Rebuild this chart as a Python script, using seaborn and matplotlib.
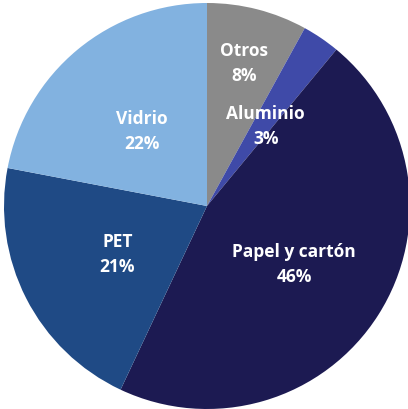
import numpy as np
import matplotlib
matplotlib.use("Agg")
import matplotlib.pyplot as plt
import seaborn as sns

categories = ["Otros", "Aluminio", "Papel y cartón", "PET", "Vidrio"]
shares = [8, 3, 46, 21, 22]
colors = ["#8a8a8a", "#3f4aa8", "#1c1a52", "#1f4a85", "#82b2e0"]
label_radius = [0.73, 0.49, 0.515, 0.50, 0.49]
label_shift = [0, -2, -1, 1, 1]  # degrees, nudges label off the wedge middle

sns.set_theme(style="white")
plt.rcParams['font.family'] = ['Open Sans', 'DejaVu Sans']

fig = plt.figure(figsize=(4.08, 4.10), dpi=100)
ax = fig.add_axes([0, 0, 1, 1])
wedges, _ = ax.pie(shares, colors=colors, startangle=90, counterclock=False,
                   radius=1.0, center=(0, 0), wedgeprops=dict(linewidth=0))

for w, cat, val, r, d in zip(wedges, categories, shares, label_radius, label_shift):
    mid = np.deg2rad((w.theta1 + w.theta2) / 2 + d)
    ax.text(r * np.cos(mid), r * np.sin(mid), f"{cat}\n{val}%", ha='center', va='center',
            color='white', fontsize=12.5, fontweight='bold', linespacing=1.5)

# pie centre at (207, 207) px, radius ~203 px
ax.set_xlim(-207 / 203, 201 / 203)
ax.set_ylim(-203 / 203, 207 / 203)
ax.set_aspect('equal')
ax.axis('off')
fig.savefig("out.png", dpi=100)
